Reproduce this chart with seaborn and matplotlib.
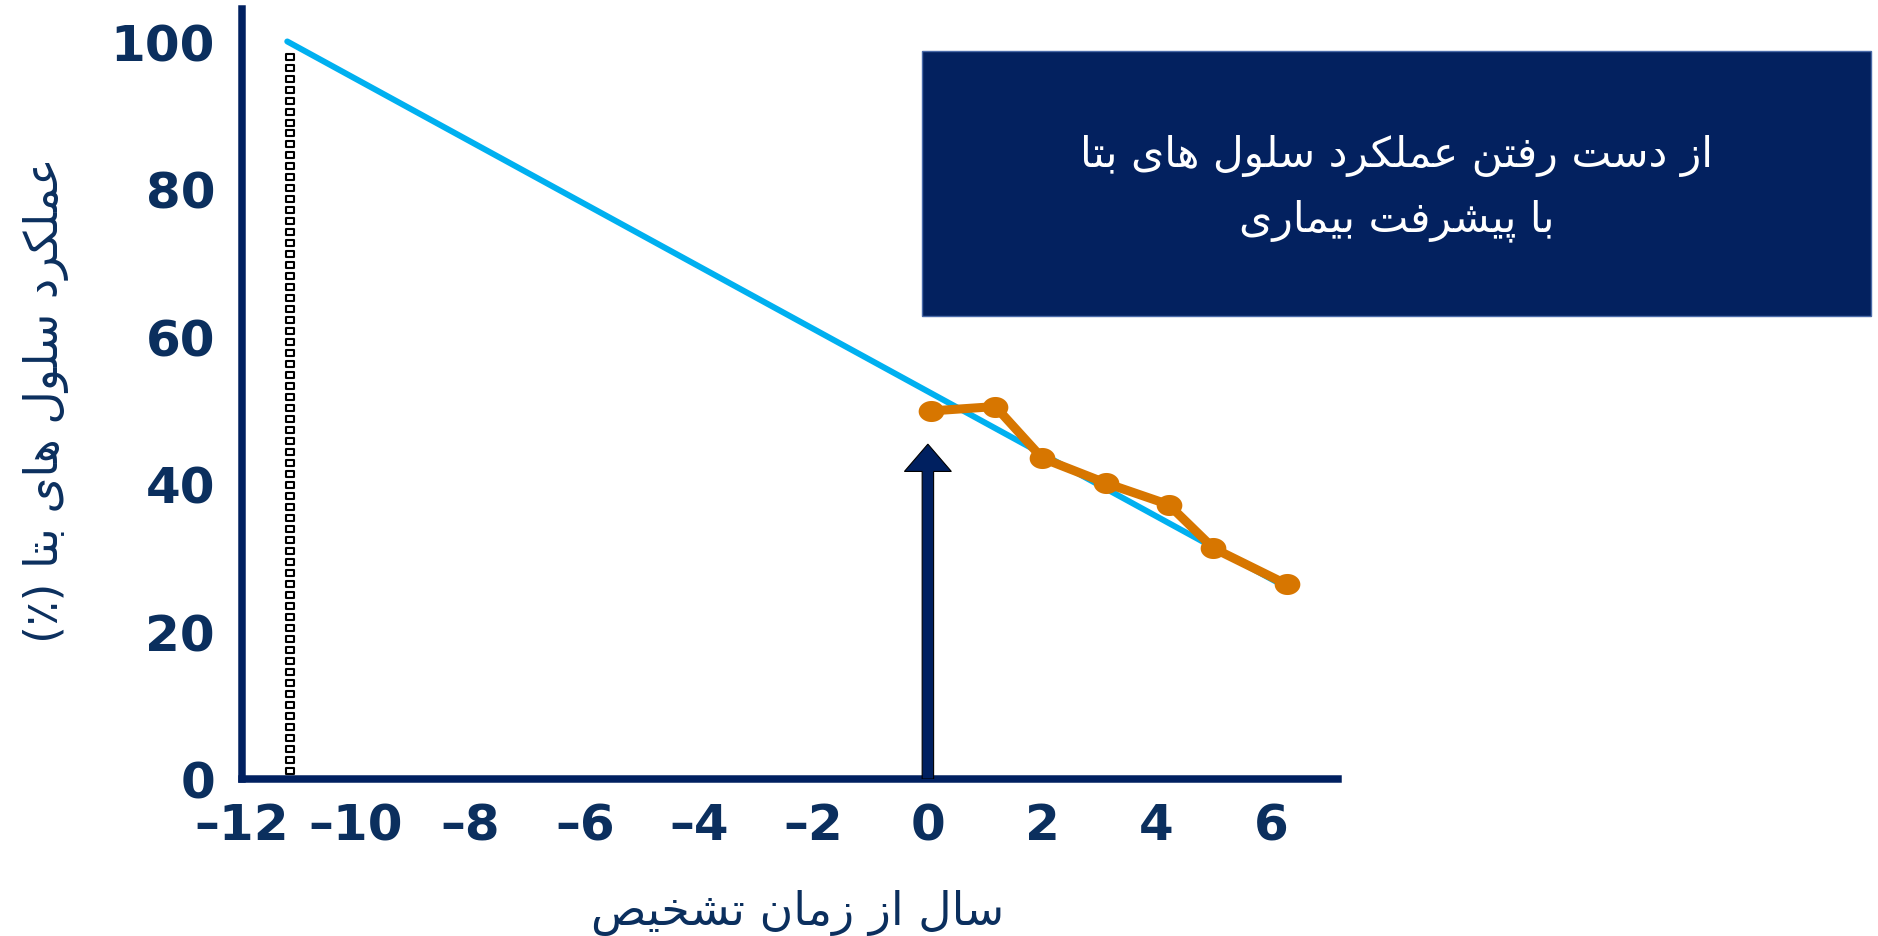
import numpy as np
import matplotlib
matplotlib.use("Agg")
import matplotlib.pyplot as plt
from matplotlib.path import Path
from matplotlib.patches import Rectangle
import seaborn as sns

# ---- data -------------------------------------------------------------
# Beta-cell function trend line (years from diagnosis, % function)
trend_years = [-11.2, 6.1]
trend_beta = [100.0, 26.7]

# Observed beta-cell function after diagnosis
obs_years = [0.05, 1.18, 2.0, 3.12, 4.21, 4.99, 6.27]
obs_beta = [49.9, 50.5, 43.5, 40.1, 37.2, 31.3, 26.4]

# Onset of decline and the diagnosis marker
onset_year = -11.15
onset_span = [1.1, 98.4]
diagnosis_year = 0.0
diagnosis_arrow_top = 45.4

x_ticks = [-12, -10, -8, -6, -4, -2, 0, 2, 4, 6]
x_tick_labels = ["\u201312", "\u201310", "\u20138", "\u20136", "\u20134", "\u20132", "0", "2", "4", "6"]
y_ticks = [0, 20, 40, 60, 80, 100]

y_title = "عملکرد سلول های بتا (٪)"
x_title = "سال از زمان تشخیص"
box_lines = ["از دست رفتن عملکرد سلول های بتا", "با پیشرفت بیماری"]

# ---- minimal Persian shaping (presentation forms + right-to-left order) ----
FORMS = {
    "ا": ("\uFE8D", "\uFE8E", None, None),
    "ب": ("\uFE8F", "\uFE90", "\uFE91", "\uFE92"),
    "پ": ("\uFB56", "\uFB57", "\uFB58", "\uFB59"),
    "ت": ("\uFE95", "\uFE96", "\uFE97", "\uFE98"),
    "خ": ("\uFEA5", "\uFEA6", "\uFEA7", "\uFEA8"),
    "د": ("\uFEA9", "\uFEAA", None, None),
    "ر": ("\uFEAD", "\uFEAE", None, None),
    "ز": ("\uFEAF", "\uFEB0", None, None),
    "س": ("\uFEB1", "\uFEB2", "\uFEB3", "\uFEB4"),
    "ش": ("\uFEB5", "\uFEB6", "\uFEB7", "\uFEB8"),
    "ص": ("\uFEB9", "\uFEBA", "\uFEBB", "\uFEBC"),
    "ع": ("\uFEC9", "\uFECA", "\uFECB", "\uFECC"),
    "ف": ("\uFED1", "\uFED2", "\uFED3", "\uFED4"),
    "ک": ("\uFB8E", "\uFB8F", "\uFB90", "\uFB91"),
    "ل": ("\uFEDD", "\uFEDE", "\uFEDF", "\uFEE0"),
    "م": ("\uFEE1", "\uFEE2", "\uFEE3", "\uFEE4"),
    "ن": ("\uFEE5", "\uFEE6", "\uFEE7", "\uFEE8"),
    "ه": ("\uFEE9", "\uFEEA", "\uFEEB", "\uFEEC"),
    "و": ("\uFEED", "\uFEEE", None, None),
    "ی": ("\uFBFC", "\uFBFD", "\uFBFE", "\uFBFF"),
}


def rtl(text):
    out = []
    n = len(text)
    for i, ch in enumerate(text):
        if ch not in FORMS:
            out.append(ch)
            continue
        iso, fin, ini, med = FORMS[ch]
        prev = text[i - 1] if i > 0 else None
        nxt = text[i + 1] if i < n - 1 else None
        joins_prev = prev in FORMS and FORMS[prev][2] is not None
        joins_next = nxt in FORMS and ini is not None
        if joins_prev and joins_next:
            out.append(med)
        elif joins_prev:
            out.append(fin)
        elif joins_next:
            out.append(ini)
        else:
            out.append(iso)
    shaped = "".join(out)[::-1]
    return shaped.translate(str.maketrans("()", ")("))


# ---- style ------------------------------------------------------------
sns.set_theme(style="white")
plt.rcParams["font.family"] = ["DejaVu Sans"]

NAVY = "#002060"
TEXT_NAVY = "#0B2F5E"
BLUE = "#00B0F0"
ORANGE = "#D77600"

W, H = 1878, 937
fig = plt.figure(figsize=(W / 100, H / 100), dpi=100)
ax = fig.add_axes([241.5 / W, (H - 780) / H, (1338 - 241.5) / W, 770 / H])

# trend line
sns.lineplot(x=trend_years, y=trend_beta, ax=ax, color=BLUE, lw=4.3,
             sort=False, zorder=3)

# observed values with oval markers
t = np.linspace(0, 2 * np.pi, 60)
oval = Path(np.column_stack([np.cos(t), 0.82 * np.sin(t)]), closed=True)
sns.lineplot(x=obs_years, y=obs_beta, ax=ax, color=ORANGE, lw=6.5,
             marker=oval, markersize=18.5, markeredgewidth=0,
             markerfacecolor=ORANGE, sort=False, zorder=4)

# onset marker: a column of small hollow rectangles
rect = Path([(-1, -0.62), (1, -0.62), (1, 0.62), (-1, 0.62), (-1, -0.62)], closed=True)
onset_y = np.arange(onset_span[0], onset_span[1], 1.49)
ax.plot(np.full_like(onset_y, onset_year), onset_y, ls="none", marker=rect,
        markersize=6.4, markerfacecolor="white", markeredgecolor="black",
        markeredgewidth=1.5, zorder=3)

# diagnosis arrow
ax.arrow(diagnosis_year, 0, 0, diagnosis_arrow_top, width=0.2,
         head_width=0.82, head_length=3.7, length_includes_head=True,
         fc=NAVY, ec="black", lw=0.8, zorder=5)

ax.set_xlim(-12, 7.17)
ax.set_ylim(0, 104.4)
ax.set_xticks(x_ticks)
ax.set_xticklabels(x_tick_labels)
ax.set_yticks(y_ticks)
ax.tick_params(axis="both", length=0)
ax.tick_params(axis="x", pad=16)
ax.tick_params(axis="y", pad=19)
for lab in ax.get_xticklabels() + ax.get_yticklabels():
    lab.set_family(["DejaVu Sans"])
    lab.set_fontweight("bold")
    lab.set_fontsize(36)
    lab.set_color(TEXT_NAVY)
ax.set_xlabel("")
ax.set_ylabel("")

for side in ("top", "right"):
    ax.spines[side].set_visible(False)
for side in ("left", "bottom"):
    ax.spines[side].set_color(NAVY)
    ax.spines[side].set_linewidth(5.4)
ax.grid(False)
ax.set_facecolor("white")

# axis titles
fig.text(797.5 / W, 1 - 913 / H, rtl(x_title), ha="center", va="center",
         fontsize=33, color=TEXT_NAVY, family=["DejaVu Sans"])
fig.text(46 / W, 1 - 400 / H, rtl(y_title), ha="center", va="center",
         rotation=90, fontsize=33, color=TEXT_NAVY, family=["DejaVu Sans"])

# caption box
bx0, by0, bx1, by1 = 922, 51.5, 1871, 317
fig.add_artist(Rectangle((bx0 / W, 1 - by1 / H), (bx1 - bx0) / W, (by1 - by0) / H,
                         transform=fig.transFigure, facecolor="#03215F",
                         edgecolor="#4A6AA8", lw=1.0))
for line, yc in zip(box_lines, [156, 221]):
    fig.text((bx0 + bx1) / 2 / W, 1 - yc / H, rtl(line), ha="center", va="center",
             fontsize=30.5, color="white", family=["DejaVu Sans"])

fig.savefig("out.png", dpi=100, facecolor="white")
